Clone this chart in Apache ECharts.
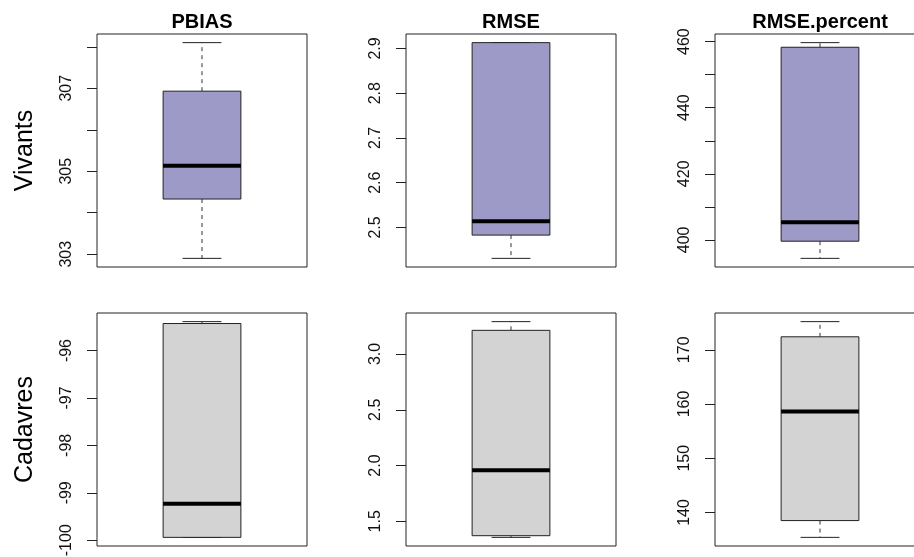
<!DOCTYPE html>
<html><head><meta charset="utf-8">
<script src="https://cdn.jsdelivr.net/npm/echarts@6/dist/echarts.min.js"></script>
<style>html,body{margin:0;padding:0;background:#fff}#c{width:914px;height:557px}</style>
</head><body><div id="c"></div>
<script>
// Row groups and column metrics
const groups = ['Vivants', 'Cadavres'];
const metrics = ['PBIAS', 'RMSE', 'RMSE.percent'];

// Box statistics: [lower whisker, Q1, median, Q3, upper whisker]
const pbiasVivants    = [302.90, 304.33, 305.13, 306.93, 308.10];
const rmseVivants     = [2.431, 2.483, 2.514, 2.913, 2.913];
const rmsePctVivants  = [394.4, 399.6, 405.3, 458.3, 459.7];
const pbiasCadavres   = [-99.94, -99.94, -99.23, -95.43, -95.39];
const rmseCadavres    = [1.356, 1.371, 1.958, 3.212, 3.290];
const rmsePctCadavres = [135.4, 138.5, 158.6, 172.4, 175.2];

// Tick positions and labelled ticks
const pbiasVivantsTicks    = [303, 304, 305, 306, 307, 308];
const pbiasVivantsLabels   = ['303', '305', '307'];
const rmseVivantsTicks     = [2.5, 2.6, 2.7, 2.8, 2.9];
const rmseVivantsLabels    = ['2.5', '2.6', '2.7', '2.8', '2.9'];
const rmsePctVivantsTicks  = [400, 410, 420, 430, 440, 450, 460];
const rmsePctVivantsLabels = ['400', '420', '440', '460'];
const pbiasCadavresTicks   = [-100, -99, -98, -97, -96];
const pbiasCadavresLabels  = ['-100', '-99', '-98', '-97', '-96'];
const rmseCadavresTicks    = [1.5, 2.0, 2.5, 3.0];
const rmseCadavresLabels   = ['1.5', '2.0', '2.5', '3.0'];
const rmsePctCadavresTicks = [140, 150, 160, 170];
const rmsePctCadavresLabels= ['140', '150', '160', '170'];

const boxColors = ['#9e9ac8', '#d3d3d3'];

const panels = [
  [pbiasVivants, pbiasVivantsTicks, pbiasVivantsLabels],
  [rmseVivants, rmseVivantsTicks, rmseVivantsLabels],
  [rmsePctVivants, rmsePctVivantsTicks, rmsePctVivantsLabels],
  [pbiasCadavres, pbiasCadavresTicks, pbiasCadavresLabels],
  [rmseCadavres, rmseCadavresTicks, rmseCadavresLabels],
  [rmsePctCadavres, rmsePctCadavresTicks, rmsePctCadavresLabels]
];

const colLeft = [97, 406, 715];
const rowTop = [34, 313];
const panelW = 210, panelH = 233;
const FONT = 'Liberation Sans, Arial, Helvetica, sans-serif';

const grid = [], xAxis = [], yAxis = [], series = [], graphic = [];

panels.forEach((p, i) => {
  const row = Math.floor(i / 3), col = i % 3;
  const stats = p[0], ticks = p[1], labels = p[2];
  const lo = stats[0], hi = stats[4], pad = 0.04 * (hi - lo);
  const labelVals = labels.map(Number);
  grid.push({
    left: colLeft[col], top: rowTop[row], width: panelW, height: panelH,
    outerBoundsMode: 'none', containLabel: false,
    show: true, borderColor: '#222', borderWidth: 1, backgroundColor: '#fff'
  });
  xAxis.push({ gridIndex: i, type: 'value', min: 0.46, max: 1.54, show: false });
  const ya = {
    gridIndex: i, type: 'value', min: lo - pad, max: hi + pad,
    splitLine: { show: false },
    axisLine: { show: false },
    axisTick: { show: true, customValues: ticks, length: 10, lineStyle: { color: '#222', width: 1 } },
    axisLabel: {
      show: true, customValues: labelVals, rotate: 90, margin: 22,
      fontSize: 16, color: '#111', fontFamily: FONT, hideOverlap: false,
      formatter: function (v) {
        for (let k = 0; k < labelVals.length; k++) if (Math.abs(labelVals[k] - v) < 1e-9) return labels[k];
        return '';
      }
    }
  };
  if (col === 0) {
    ya.name = groups[row];
    ya.nameLocation = 'middle';
    ya.nameRotate = 90;
    ya.nameGap = 59;
    ya.nameTextStyle = { fontSize: 25, color: '#000', fontFamily: FONT };
  }
  yAxis.push(ya);
  series.push({
    type: 'custom', xAxisIndex: i, yAxisIndex: i,
    data: [[1].concat(stats)],
    renderItem: function (params, api) {
      const x = api.value(0);
      const vMin = api.value(1), q1 = api.value(2), med = api.value(3), q3 = api.value(4), vMax = api.value(5);
      const c = (a, b) => api.coord([a, b]);
      const fill = boxColors[row];
      const bl = c(x - 0.2, q3), br = c(x + 0.2, q1);
      const dash = { stroke: '#333', lineWidth: 1, lineDash: [4, 4] };
      const solid = { stroke: '#222', lineWidth: 1 };
      const mk = (a, b, style) => ({ type: 'line', shape: { x1: a[0], y1: a[1], x2: b[0], y2: b[1] }, style: style });
      return {
        type: 'group',
        children: [
          mk(c(x, q3), c(x, vMax), dash),
          mk(c(x, q1), c(x, vMin), dash),
          mk(c(x - 0.1, vMax), c(x + 0.1, vMax), solid),
          mk(c(x - 0.1, vMin), c(x + 0.1, vMin), solid),
          { type: 'rect', shape: { x: bl[0], y: bl[1], width: br[0] - bl[0], height: br[1] - bl[1] },
            style: { fill: fill, stroke: '#222', lineWidth: 1 } },
          mk(c(x - 0.2, med), c(x + 0.2, med), { stroke: '#000', lineWidth: 4 })
        ]
      };
    }
  });
});

metrics.forEach((m, col) => {
  graphic.push({
    type: 'text', x: colLeft[col] + panelW / 2, y: 22,
    style: { text: m, fontSize: 20, fontWeight: 'bold', fontFamily: FONT, fill: '#000',
             align: 'center', verticalAlign: 'middle' }
  });
});

const chart = echarts.init(document.getElementById('c'), null, { renderer: 'canvas' });
chart.setOption({
  animation: false,
  backgroundColor: '#fff',
  grid: grid, xAxis: xAxis, yAxis: yAxis, series: series, graphic: graphic
});
</script></body></html>
